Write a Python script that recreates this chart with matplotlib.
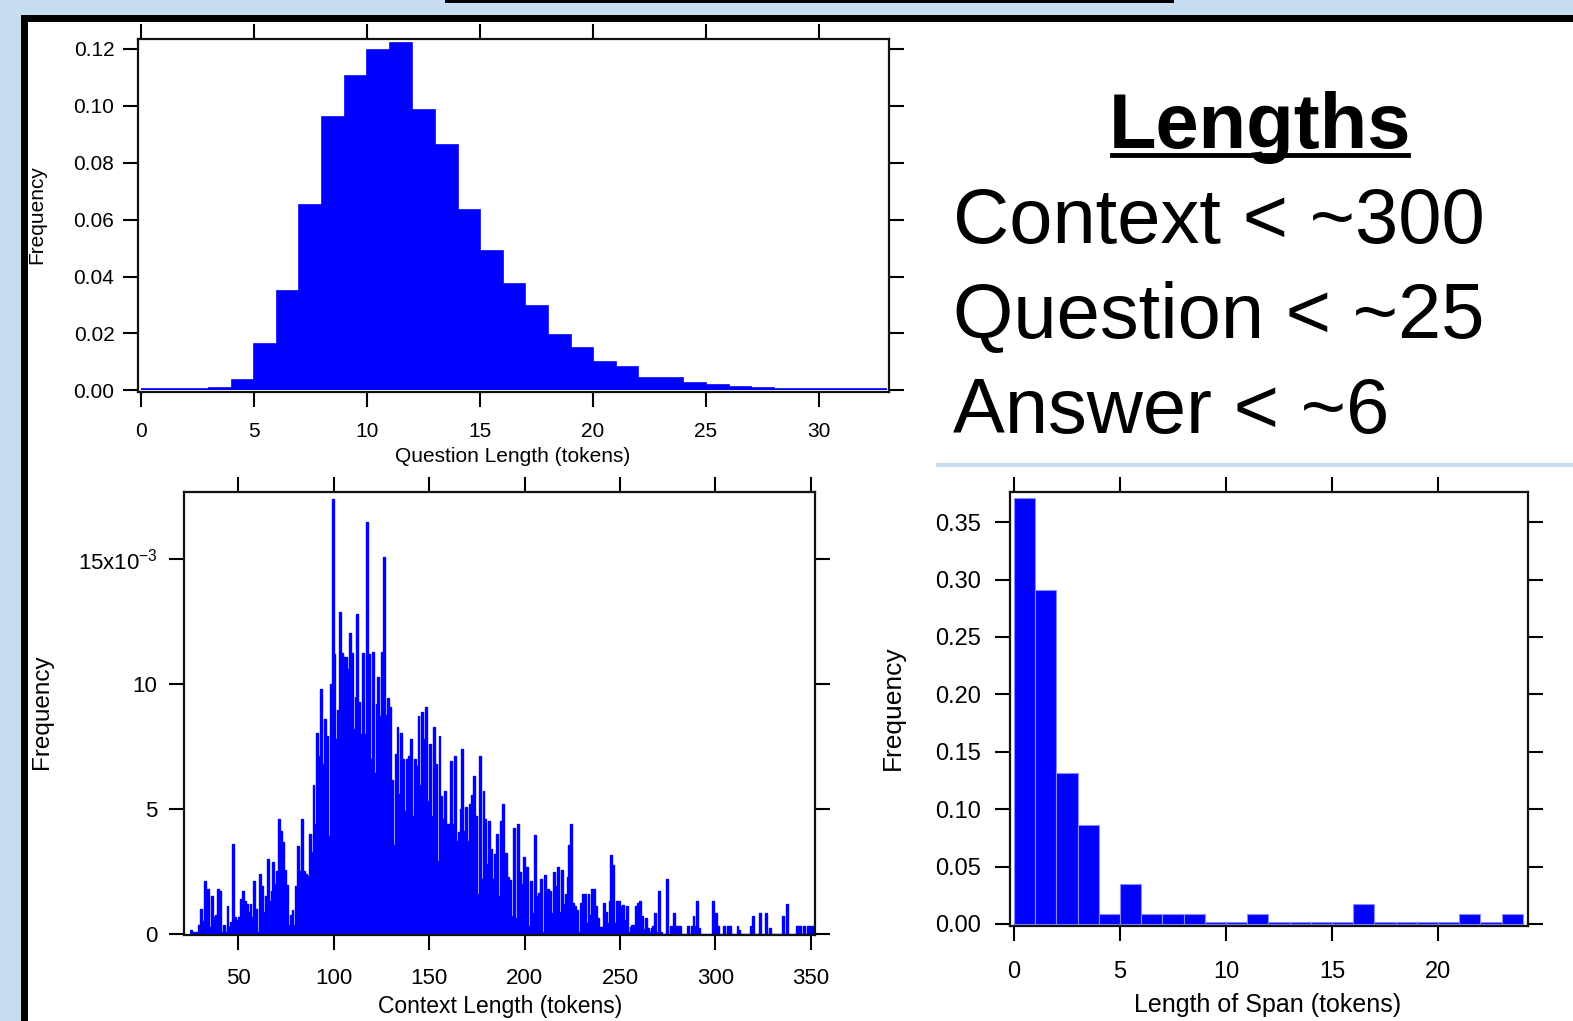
import matplotlib
matplotlib.use('Agg')
import matplotlib.pyplot as plt
from matplotlib.patches import Rectangle
from matplotlib.lines import Line2D
import numpy as np

# ---------------- data ----------------
# Question length histogram (bins of 1 token starting at 0)
question_edges = list(range(0, 34))
question_freq = [0.0005, 0.0005, 0.0005, 0.0008, 0.0035, 0.0163, 0.0349, 0.065,
                 0.096, 0.1105, 0.1196, 0.1222, 0.0987, 0.0862, 0.0635, 0.049,
                 0.0375, 0.0295, 0.0194, 0.0147, 0.0098, 0.0081, 0.0042, 0.0042,
                 0.0025, 0.0018, 0.0012, 0.0008, 0.0005, 0.0005, 0.0005, 0.0005,
                 0.0005]

# Context length histogram (bins of 1 token from 25), frequency in units of 1e-3
context_start = 25
context_freq_e3 = [
    0.16, 0.05, 0.05, 0.05, 0.36, 1.0, 0.5, 2.1, 0.27, 1.8,
    0.27, 1.5, 0.67, 0.76, 1.8, 1.7, 0.05, 0.36, 0.05, 1.1,
    0.27, 0.45, 3.6, 0.67, 0.56, 0.67, 1.4, 1.7, 1.3, 1.2,
    0.85, 1.2, 0.65, 2.1, 1.0, 0.05, 2.4, 1.9, 0.85, 1.5,
    3.0, 1.3, 1.7, 2.85, 2.0, 2.5, 4.6, 4.1, 3.65, 2.55,
    1.95, 0.36, 0.76, 0.93, 0.36, 1.9, 3.5, 2.5, 4.6, 2.5,
    2.4, 2.3, 4.0, 3.25, 5.95, 4.4, 8.05, 7.1, 9.8, 6.8,
    8.6, 7.9, 3.9, 10.0, 17.4, 11.2, 7.8, 8.96, 12.9, 11.25,
    11.1, 11.07, 10.6, 12.05, 11.25, 8.2, 9.5, 12.8, 9.3, 8.0,
    11.25, 8.0, 16.5, 11.2, 7.0, 11.3, 6.45, 9.2, 10.3, 8.7,
    11.3, 15.1, 8.76, 9.43, 9.1, 6.16, 3.56, 7.2, 8.27, 5.6,
    8.05, 7.0, 4.9, 7.0, 7.1, 7.8, 4.7, 7.0, 6.7, 8.7,
    5.96, 8.9, 7.8, 9.1, 5.3, 7.6, 4.7, 8.27, 6.8, 2.9,
    7.9, 5.5, 4.6, 5.7, 4.4, 4.4, 6.9, 4.4, 7.1, 3.7,
    4.05, 5.0, 7.4, 4.1, 5.07, 3.7, 5.2, 5.56, 6.3, 4.7,
    1.6, 7.1, 2.2, 5.7, 4.6, 2.8, 4.5, 3.4, 2.2, 3.2,
    4.0, 1.5, 4.5, 5.2, 3.23, 3.23, 2.27, 2.16, 0.72, 4.23,
    0.63, 4.4, 2.45, 2.0, 3.05, 2.19, 2.67, 0.32, 2.1, 0.83,
    3.93, 1.52, 1.63, 2.19, 0.05, 2.36, 1.23, 1.79, 1.69, 0.83,
    2.45, 1.89, 2.67, 0.85, 2.56, 1.2, 1.6, 2.27, 3.56, 4.4,
    1.23, 1.09, 0.96, 0.05, 1.23, 1.6, 1.6, 0.43, 1.6, 0.76,
    1.79, 1.79, 1.12, 0.63, 0.27, 0.27, 1.23, 0.85, 0.43, 1.29,
    3.16, 2.76, 0.43, 1.29, 1.29, 1.09, 1.16, 0.56, 1.09, 0.05,
    0.27, 0.36, 0.36, 1.09, 1.23, 1.29, 0.72, 0.19, 0.63, 0.23,
    0.05, 0.23, 0.32, 0.83, 0.05, 1.69, 0.05, 0, 0, 2.19,
    0, 0.32, 0.32, 0.83, 0.32, 0.32, 0.32, 0, 0, 0,
    0.32, 0, 0.32, 0.72, 0.32, 1.29, 0.23, 0, 0, 0,
    0, 0, 0, 1.29, 0, 0.83, 0.32, 0, 0, 0.32,
    0, 0.32, 0.32, 0, 0, 0, 0.32, 0.16, 0, 0,
    0, 0, 0, 0.32, 0.72, 0, 0, 0, 0.83, 0,
    0, 0.83, 0, 0.23, 0, 0, 0, 0, 0, 0,
    0.72, 0, 1.2, 0, 0, 0, 0, 0.32, 0.32, 0.32,
    0, 0.32, 0, 0.32, 0.32, 0.32, 0.32]

# Answer span length histogram (bins of 1 token from 0)
span_edges = list(range(0, 25))
span_freq = [0.371, 0.291, 0.1315, 0.086, 0.0084, 0.0349, 0.0084, 0.0084,
             0.0084, 0.0015, 0.0015, 0.0084, 0.0015, 0.0015, 0.0015, 0.0015,
             0.0172, 0.0015, 0.0015, 0.0015, 0.0015, 0.0084, 0.0015, 0.0084]

question_xticks = [0, 5, 10, 15, 20, 25, 30]
question_yticks = [0.00, 0.02, 0.04, 0.06, 0.08, 0.10, 0.12]
context_xticks = [50, 100, 150, 200, 250, 300, 350]
context_yticks = [0, 5, 10, 15]
context_yticklabels = ['0', '5', '10', '15x10$^{-3}$']
span_xticks = [0, 5, 10, 15, 20]
span_yticks = [0.00, 0.05, 0.10, 0.15, 0.20, 0.25, 0.30, 0.35]

title_text = 'Lengths'
summary_lines = ['Context < ~300', 'Question < ~25', 'Answer < ~6']

# ---------------- figure ----------------
W, H, DPI = 1573, 1021, 100
plt.rcParams['font.family'] = ['Liberation Sans', 'DejaVu Sans']
plt.rcParams['mathtext.fontset'] = 'custom'
plt.rcParams['mathtext.rm'] = 'Liberation Sans'
plt.rcParams['mathtext.default'] = 'regular'

BLUE = '#0000ff'
LIGHT = '#c6dcf0'

fig = plt.figure(figsize=(W / DPI, H / DPI), dpi=DPI, facecolor=LIGHT)


def prect(x0, y0, x1, y1, color, z=-5):
    fig.add_artist(Rectangle((x0 / W, 1 - y1 / H), (x1 - x0) / W, (y1 - y0) / H,
                             transform=fig.transFigure, facecolor=color,
                             edgecolor='none', zorder=z))


prect(25, 19, W + 5, H + 5, 'white')
prect(21, 15, W + 5, 22, 'black')
prect(21, 15, 28, H + 5, 'black')
prect(445, -2, 1174, 3, 'black')
prect(936, 463, W + 5, 467, LIGHT)


def make_ax(l, t, r, b, fs, pad_x, pad_y):
    ax = fig.add_axes([l / W, 1 - b / H, (r - l) / W, (b - t) / H])
    ax.set_facecolor('white')
    for s in ax.spines.values():
        s.set_linewidth(1.6)
        s.set_color('#111111')
    ax.tick_params(direction='out', length=11, width=1.5, top=True, right=True,
                   labeltop=False, labelright=False, labelsize=fs, colors='black')
    ax.tick_params(axis='x', pad=pad_x)
    ax.tick_params(axis='y', pad=pad_y)
    return ax


def fig_text(x, y, s, **kw):
    fig.text(x / W, 1 - y / H, s, **kw)


# Question length
ax1 = make_ax(138, 39, 889, 392, 15, 10.5, 6)
ax1.stairs(question_freq, question_edges, fill=True, color=BLUE, lw=0)
ax1.stairs(question_freq, question_edges, color=BLUE, lw=1.2, baseline=None)
ax1.set_xlim(-0.15, 33.1)
ax1.set_ylim(-0.0006, 0.1235)
ax1.set_xticks(question_xticks)
ax1.set_yticks(question_yticks)
ax1.set_yticklabels(['%.2f' % v for v in question_yticks])
fig_text(513, 457, 'Question Length (tokens)', fontsize=15, ha='center', va='center')
fig_text(37, 215, 'Frequency', fontsize=15, ha='center', va='center', rotation=90)

# Context length
ctx_edges = np.arange(context_start, context_start + len(context_freq_e3) + 1)
ax2 = make_ax(184, 492, 815, 935, 16, 12.5, 8)
ax2.stairs(context_freq_e3, ctx_edges, fill=True, color=BLUE, lw=0)
ax2.stairs(context_freq_e3, ctx_edges, color=BLUE, lw=1.0, baseline=None)
ax2.set_xlim(21.7, 352.1)
ax2.set_ylim(-0.06, 17.7)
ax2.set_xticks(context_xticks)
ax2.set_yticks(context_yticks)
ax2.set_yticklabels(context_yticklabels)
fig_text(500, 1006, 'Context Length (tokens)', fontsize=16.5, ha='center', va='center')
fig_text(42, 712, 'Frequency', fontsize=17.5, ha='center', va='center', rotation=90)

# Span length
ax3 = make_ax(1010, 492, 1528, 926, 17, 14, 10)
ax3.bar(span_edges[:-1], span_freq, width=1.0, align='edge', color=BLUE,
        edgecolor='#8a8aff', linewidth=0.8)
ax3.set_xlim(-0.19, 24.25)
ax3.set_ylim(-0.0018, 0.3763)
ax3.set_xticks(span_xticks)
ax3.set_yticks(span_yticks)
ax3.set_yticklabels(['%.2f' % v for v in span_yticks])
fig_text(1268, 1005, 'Length of Span (tokens)', fontsize=18, ha='center', va='center')
fig_text(893, 708, 'Frequency', fontsize=19, ha='center', va='center', rotation=90)

# Summary text
fig_text(1260, 148, title_text, fontsize=56, fontweight='bold', ha='center', va='baseline')
fig.add_artist(Line2D([1112 / W, 1408 / W], [1 - 155 / H] * 2, color='black', lw=3.5,
                      transform=fig.transFigure))
for line, base in zip(summary_lines, [243, 338, 433]):
    fig_text(953, base, line, fontsize=56, ha='left', va='baseline')

fig.savefig('out.png', dpi=DPI, facecolor=LIGHT)
